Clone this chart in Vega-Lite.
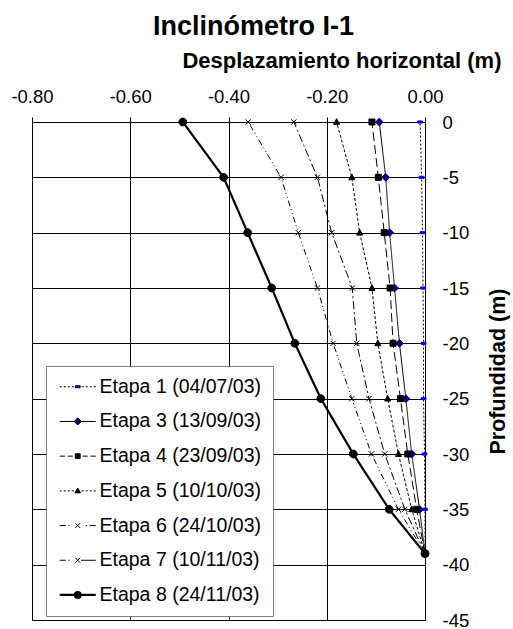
{
  "$schema": "https://vega.github.io/schema/vega-lite/v6.json",
  "autosize": {"type": "none"},
  "width": 393,
  "height": 498,
  "padding": {"left": 32, "top": 122, "right": 88, "bottom": 9},
  "background": "white",
  "title": {
    "text": "Inclinómetro I-1",
    "font": "Liberation Sans",
    "fontSize": 27,
    "fontWeight": "bold",
    "color": "black",
    "anchor": "middle",
    "frame": "group",
    "dx": 25,
    "offset": 8
  },
  "config": {
    "view": {"stroke": null},
    "font": "Liberation Sans",
    "legend": {
      "orient": "none",
      "legendX": 14,
      "legendY": 244,
      "padding": 11,
      "strokeColor": "#808080",
      "fillColor": "white",
      "labelFont": "Liberation Sans",
      "labelFontSize": 19.5,
      "labelColor": "black",
      "labelLimit": 400,
      "symbolSize": 64,
      "symbolOffset": 11,
      "labelOffset": 12,
      "rowPadding": 13.7,
      "symbolOpacity": 1,
      "symbolStrokeColor": "black"
    }
  },
  "data": {
    "values": [
      {"serie": "Etapa 1 (04/07/03)", "depth": 0, "disp": -0.010},
      {"serie": "Etapa 1 (04/07/03)", "depth": -5, "disp": -0.007},
      {"serie": "Etapa 1 (04/07/03)", "depth": -10, "disp": -0.005},
      {"serie": "Etapa 1 (04/07/03)", "depth": -15, "disp": -0.004},
      {"serie": "Etapa 1 (04/07/03)", "depth": -20, "disp": -0.003},
      {"serie": "Etapa 1 (04/07/03)", "depth": -25, "disp": -0.003},
      {"serie": "Etapa 1 (04/07/03)", "depth": -30, "disp": -0.001},
      {"serie": "Etapa 1 (04/07/03)", "depth": -35, "disp": 0.0},
      {"serie": "Etapa 1 (04/07/03)", "depth": -39, "disp": 0.0},
      {"serie": "Etapa 3 (13/09/03)", "depth": 0, "disp": -0.093},
      {"serie": "Etapa 3 (13/09/03)", "depth": -5, "disp": -0.080},
      {"serie": "Etapa 3 (13/09/03)", "depth": -10, "disp": -0.072},
      {"serie": "Etapa 3 (13/09/03)", "depth": -15, "disp": -0.062},
      {"serie": "Etapa 3 (13/09/03)", "depth": -20, "disp": -0.052},
      {"serie": "Etapa 3 (13/09/03)", "depth": -25, "disp": -0.039},
      {"serie": "Etapa 3 (13/09/03)", "depth": -30, "disp": -0.027},
      {"serie": "Etapa 3 (13/09/03)", "depth": -35, "disp": -0.011},
      {"serie": "Etapa 3 (13/09/03)", "depth": -39, "disp": 0.0},
      {"serie": "Etapa 4 (23/09/03)", "depth": 0, "disp": -0.108},
      {"serie": "Etapa 4 (23/09/03)", "depth": -5, "disp": -0.095},
      {"serie": "Etapa 4 (23/09/03)", "depth": -10, "disp": -0.083},
      {"serie": "Etapa 4 (23/09/03)", "depth": -15, "disp": -0.071},
      {"serie": "Etapa 4 (23/09/03)", "depth": -20, "disp": -0.065},
      {"serie": "Etapa 4 (23/09/03)", "depth": -25, "disp": -0.050},
      {"serie": "Etapa 4 (23/09/03)", "depth": -30, "disp": -0.035},
      {"serie": "Etapa 4 (23/09/03)", "depth": -35, "disp": -0.017},
      {"serie": "Etapa 4 (23/09/03)", "depth": -39, "disp": 0.0},
      {"serie": "Etapa 5 (10/10/03)", "depth": 0, "disp": -0.180},
      {"serie": "Etapa 5 (10/10/03)", "depth": -5, "disp": -0.149},
      {"serie": "Etapa 5 (10/10/03)", "depth": -10, "disp": -0.133},
      {"serie": "Etapa 5 (10/10/03)", "depth": -15, "disp": -0.108},
      {"serie": "Etapa 5 (10/10/03)", "depth": -20, "disp": -0.096},
      {"serie": "Etapa 5 (10/10/03)", "depth": -25, "disp": -0.076},
      {"serie": "Etapa 5 (10/10/03)", "depth": -30, "disp": -0.054},
      {"serie": "Etapa 5 (10/10/03)", "depth": -35, "disp": -0.027},
      {"serie": "Etapa 5 (10/10/03)", "depth": -39, "disp": 0.0},
      {"serie": "Etapa 6 (24/10/03)", "depth": 0, "disp": -0.267},
      {"serie": "Etapa 6 (24/10/03)", "depth": -5, "disp": -0.219},
      {"serie": "Etapa 6 (24/10/03)", "depth": -10, "disp": -0.190},
      {"serie": "Etapa 6 (24/10/03)", "depth": -15, "disp": -0.148},
      {"serie": "Etapa 6 (24/10/03)", "depth": -20, "disp": -0.139},
      {"serie": "Etapa 6 (24/10/03)", "depth": -25, "disp": -0.114},
      {"serie": "Etapa 6 (24/10/03)", "depth": -30, "disp": -0.082},
      {"serie": "Etapa 6 (24/10/03)", "depth": -35, "disp": -0.041},
      {"serie": "Etapa 6 (24/10/03)", "depth": -39, "disp": 0.0},
      {"serie": "Etapa 7 (10/11/03)", "depth": 0, "disp": -0.360},
      {"serie": "Etapa 7 (10/11/03)", "depth": -5, "disp": -0.293},
      {"serie": "Etapa 7 (10/11/03)", "depth": -10, "disp": -0.258},
      {"serie": "Etapa 7 (10/11/03)", "depth": -15, "disp": -0.219},
      {"serie": "Etapa 7 (10/11/03)", "depth": -20, "disp": -0.187},
      {"serie": "Etapa 7 (10/11/03)", "depth": -25, "disp": -0.149},
      {"serie": "Etapa 7 (10/11/03)", "depth": -30, "disp": -0.109},
      {"serie": "Etapa 7 (10/11/03)", "depth": -35, "disp": -0.054},
      {"serie": "Etapa 7 (10/11/03)", "depth": -39, "disp": 0.0},
      {"serie": "Etapa 8 (24/11/03)", "depth": 0, "disp": -0.493},
      {"serie": "Etapa 8 (24/11/03)", "depth": -5, "disp": -0.410},
      {"serie": "Etapa 8 (24/11/03)", "depth": -10, "disp": -0.361},
      {"serie": "Etapa 8 (24/11/03)", "depth": -15, "disp": -0.312},
      {"serie": "Etapa 8 (24/11/03)", "depth": -20, "disp": -0.265},
      {"serie": "Etapa 8 (24/11/03)", "depth": -25, "disp": -0.212},
      {"serie": "Etapa 8 (24/11/03)", "depth": -30, "disp": -0.146},
      {"serie": "Etapa 8 (24/11/03)", "depth": -35, "disp": -0.073},
      {"serie": "Etapa 8 (24/11/03)", "depth": -39, "disp": 0.0}
    ]
  },
  "encoding": {
    "x": {
      "field": "disp",
      "type": "quantitative",
      "scale": {"domain": [-0.8, 0], "nice": false, "zero": false},
      "axis": {
        "orient": "top",
        "values": [-0.8, -0.6, -0.4, -0.2, 0],
        "format": ".2f",
        "labelExpr": "replace(datum.label, '−', '-')",
        "labelFlush": false,
        "labelFont": "Liberation Sans",
        "labelFontSize": 18.5,
        "labelColor": "black",
        "labelBaseline": "alphabetic",
        "labelPadding": 15,
        "tickSize": 5,
        "tickColor": "black",
        "tickWidth": 1,
        "domainColor": "black",
        "domainWidth": 1,
        "grid": true,
        "gridColor": "black",
        "gridOpacity": 1,
        "gridWidth": 1,
        "title": "Desplazamiento horizontal (m)",
        "titleFont": "Liberation Sans",
        "titleFontSize": 22,
        "titleFontWeight": "bold",
        "titleColor": "black",
        "titleAlign": "right",
        "titleAnchor": null,
        "titleBaseline": "alphabetic",
        "titleX": 469,
        "titleY": -55
      }
    },
    "y": {
      "field": "depth",
      "type": "quantitative",
      "scale": {"domain": [-45, 0], "nice": false, "zero": false},
      "axis": {
        "orient": "right",
        "values": [0, -5, -10, -15, -20, -25, -30, -35, -40, -45],
        "labelExpr": "replace(datum.label, '−', '-')",
        "labelFont": "Liberation Sans",
        "labelFontSize": 18.5,
        "labelColor": "black",
        "labelAlign": "left",
        "labelBaseline": "middle",
        "labelPadding": 17,
        "ticks": false,
        "tickSize": 0,
        "domainColor": "black",
        "domainWidth": 1,
        "grid": true,
        "gridColor": "black",
        "gridOpacity": 1,
        "gridWidth": 1,
        "title": "Profundidad (m)",
        "titleFont": "Liberation Sans",
        "titleFontSize": 21.5,
        "titleFontWeight": "bold",
        "titleColor": "black",
        "titleAngle": 270,
        "titleBaseline": "middle",
        "titleX": 73,
        "titleY": 249
      }
    }
  },
  "layer": [
    {
      "mark": {"type": "line", "stroke": "black", "clip": false},
      "encoding": {
        "detail": {"field": "serie", "type": "nominal"},
        "order": {"field": "depth", "type": "quantitative"},
        "strokeDash": {
          "condition": [
            {"test": "datum.serie === 'Etapa 1 (04/07/03)'", "value": [2, 2]},
            {"test": "datum.serie === 'Etapa 4 (23/09/03)'", "value": [9, 4]},
            {"test": "datum.serie === 'Etapa 5 (10/10/03)'", "value": [3, 2]},
            {"test": "datum.serie === 'Etapa 6 (24/10/03)'", "value": [8, 3, 2, 3]},
            {"test": "datum.serie === 'Etapa 7 (10/11/03)'", "value": [6, 3, 1, 3, 1, 3]}
          ],
          "value": [1, 0]
        },
        "strokeWidth": {
          "condition": {"test": "datum.serie === 'Etapa 8 (24/11/03)'", "value": 2.2},
          "value": 1
        }
      }
    },
    {
      "mark": {"type": "point", "filled": true, "opacity": 1, "size": 36, "strokeWidth": 1, "clip": false},
      "encoding": {
        "shape": {
          "condition": [
            {"test": "datum.serie === 'Etapa 1 (04/07/03)'", "value": "M-0.8,-0.35H0.8V0.35H-0.8Z"},
            {"test": "datum.serie === 'Etapa 3 (13/09/03)'", "value": "M0,-1.3L1.3,0L0,1.3L-1.3,0Z"},
            {"test": "datum.serie === 'Etapa 4 (23/09/03)'", "value": "M-1,-1H1V1H-1Z"},
            {"test": "datum.serie === 'Etapa 5 (10/10/03)'", "value": "M0,-1.1L1,0.8H-1Z"},
            {"test": "datum.serie === 'Etapa 6 (24/10/03)'", "value": "M-0.9,-0.9L0.9,0.9M-0.9,0.9L0.9,-0.9"},
            {"test": "datum.serie === 'Etapa 7 (10/11/03)'", "value": "M-0.9,-0.9L0.9,0.9M-0.9,0.9L0.9,-0.9"}
          ],
          "value": "M-1.3,0A1.3,1.3,0,1,0,1.3,0A1.3,1.3,0,1,0,-1.3,0Z"
        },
        "fill": {
          "condition": [
            {"test": "datum.serie === 'Etapa 1 (04/07/03)'", "value": "#0000ff"},
            {"test": "datum.serie === 'Etapa 3 (13/09/03)'", "value": "#000080"}
          ],
          "value": "black"
        },
        "stroke": {
          "condition": [
            {"test": "datum.serie === 'Etapa 1 (04/07/03)'", "value": "#0000ff"},
            {"test": "datum.serie === 'Etapa 3 (13/09/03)'", "value": "#000080"}
          ],
          "value": "black"
        }
      }
    },
    {
      "mark": {"type": "point", "filled": true, "opacity": 0, "clip": false},
      "encoding": {
        "shape": {
          "field": "serie",
          "type": "nominal",
          "scale": {
            "domain": ["Etapa 1 (04/07/03)", "Etapa 3 (13/09/03)", "Etapa 4 (23/09/03)", "Etapa 5 (10/10/03)", "Etapa 6 (24/10/03)", "Etapa 7 (10/11/03)", "Etapa 8 (24/11/03)"],
            "range": [
              "M-4.5,0H-4M-3.5,0H-3M-2.5,0H-2M-1.5,0H-1M1,0H1.5M2,0H2.5M3,0H3.5M4,0H4.5M-0.6,-0.25H0.6V0.25H-0.6Z",
              "M-4.5,0H4.5M0,-0.9L0.9,0L0,0.9L-0.9,0Z",
              "M-4.5,0H-3.2M-2.5,0H-1.2M1.2,0H2.5M3.2,0H4.5M-0.6,-0.6H0.6V0.6H-0.6Z",
              "M-4.5,0H-4M-3.5,0H-3M-2.5,0H-2M-1.5,0H-1M1,0H1.5M2,0H2.5M3,0H3.5M4,0H4.5M0,-0.7L0.7,0.5H-0.7Z",
              "M-4.5,0H-3M-2.3,0H-2M2,0H2.3M3,0H4.5M-0.6,-0.6L0.6,0.6M-0.6,0.6L0.6,-0.6",
              "M-4.5,0H-3M-2.3,0H-2M0.8,0H4.5M-0.6,-0.6L0.6,0.6M-0.6,0.6L0.6,-0.6",
              "M-4.5,0H4.5M-0.7,0A0.7,0.7,0,1,0,0.7,0A0.7,0.7,0,1,0,-0.7,0Z"
            ]
          },
          "legend": {"title": null}
        },
        "fill": {
          "field": "serie",
          "type": "nominal",
          "scale": {
            "domain": ["Etapa 1 (04/07/03)", "Etapa 3 (13/09/03)", "Etapa 4 (23/09/03)", "Etapa 5 (10/10/03)", "Etapa 6 (24/10/03)", "Etapa 7 (10/11/03)", "Etapa 8 (24/11/03)"],
            "range": ["#0000ff", "#000080", "black", "black", "black", "black", "black"]
          },
          "legend": {"title": null}
        },
        "stroke": {
          "field": "serie",
          "type": "nominal",
          "scale": {
            "domain": ["Etapa 1 (04/07/03)", "Etapa 3 (13/09/03)", "Etapa 4 (23/09/03)", "Etapa 5 (10/10/03)", "Etapa 6 (24/10/03)", "Etapa 7 (10/11/03)", "Etapa 8 (24/11/03)"],
            "range": ["black", "black", "black", "black", "black", "black", "black"]
          },
          "legend": {"title": null}
        },
        "strokeWidth": {
          "field": "serie",
          "type": "nominal",
          "scale": {
            "type": "ordinal",
            "domain": ["Etapa 1 (04/07/03)", "Etapa 3 (13/09/03)", "Etapa 4 (23/09/03)", "Etapa 5 (10/10/03)", "Etapa 6 (24/10/03)", "Etapa 7 (10/11/03)", "Etapa 8 (24/11/03)"],
            "range": [1, 1, 1, 1, 1, 1, 2.2]
          },
          "legend": {"title": null}
        }
      }
    }
  ]
}
